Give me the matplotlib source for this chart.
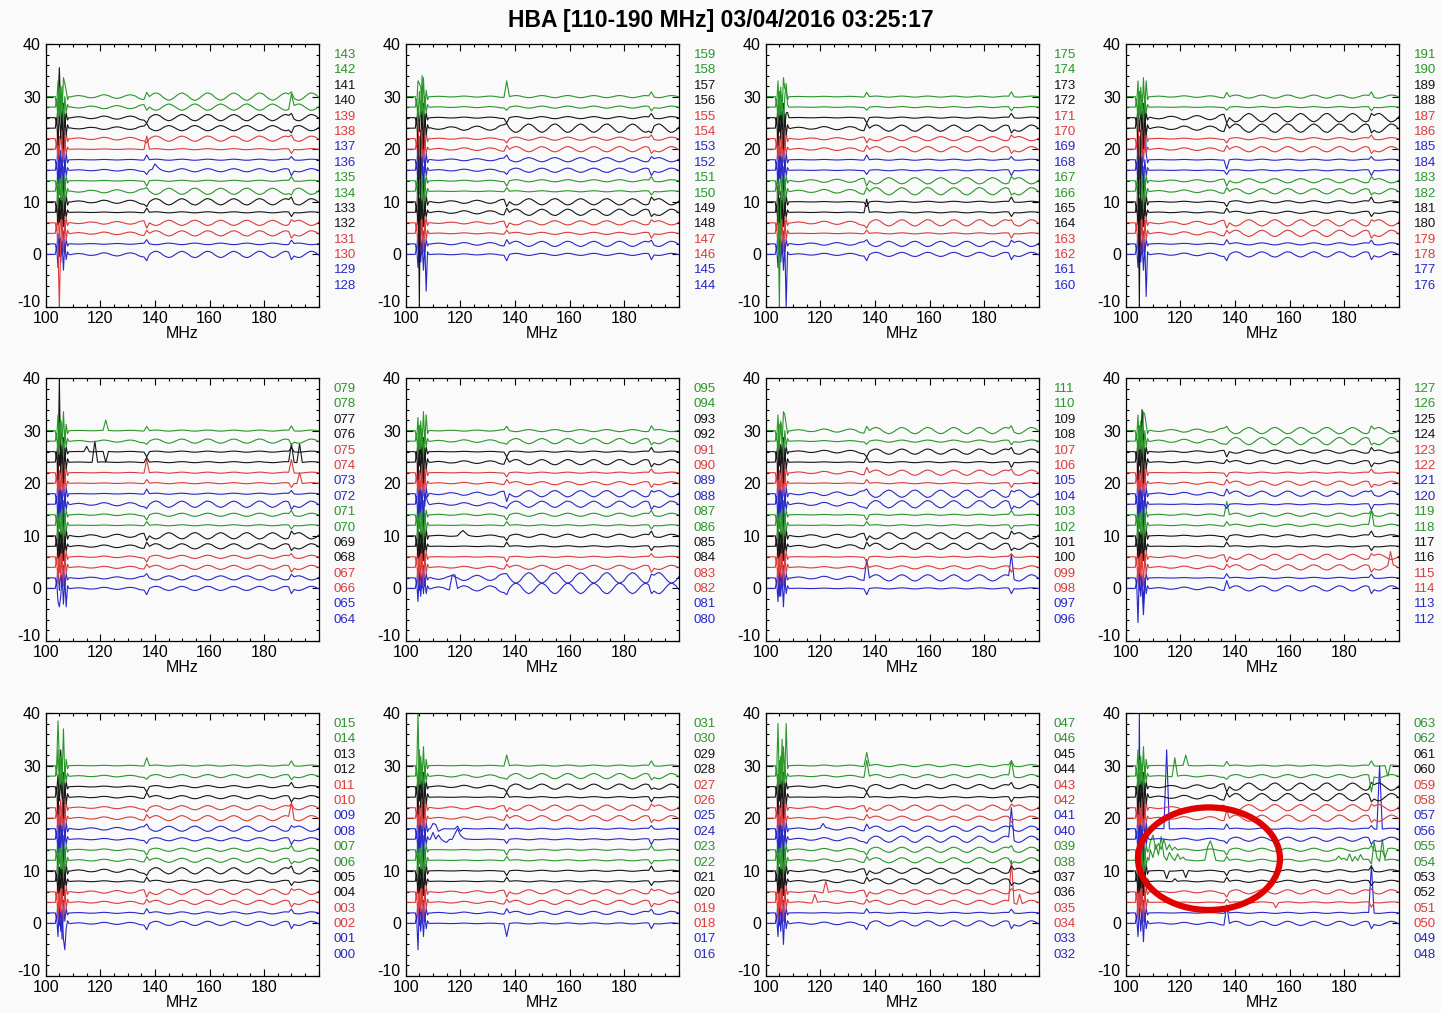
import numpy as np
import matplotlib.pyplot as plt
from matplotlib.patches import Ellipse
from matplotlib.ticker import MultipleLocator

plt.rcParams['font.family'] = ['Liberation Sans', 'DejaVu Sans']
plt.rcParams['axes.unicode_minus'] = False

title = 'HBA [110-190 MHz] 03/04/2016 03:25:17'

# 16 traces per panel, stacked 2 dB apart, colour changes every 2 traces
offsets = [0, 2, 4, 6, 8, 10, 12, 14, 16, 18, 20, 22, 24, 26, 28, 30]
colours = ['#2828c8', '#dd3b3b', '#151515', '#2a962a']  # blue, red, black, green

# FM band edge (100-108.5 MHz), sampled every 0.5 MHz around the mess
fm_freq = [100, 103.5, 104, 104.5, 105, 105.5, 106, 106.5, 107, 107.5, 108, 108.5]
fm_shape = [0, 0, 1.5, -2.5, 3.0, -1.5, 2.5, -3.0, 2.0, -1.0, 0.5, 0]
fm_amp = [1.0, -0.8, 1.2, -1.0, 0.9, -1.3, 1.1, -0.9, 1.0, -1.2, 0.8, -1.1, 1.3, -0.9, 1.0, -1.2]

# ripple, 109..200 MHz at 1 MHz
grid_freq = np.arange(109, 201)
ripple = [-0.1, 0.1, 0.2, 0.3, 0.2, 0.1, -0.15, -0.3, -0.3, -0.2, 0.0,
          0.3, 0.5, 0.45, 0.25, -0.1, -0.35, -0.5, -0.4, -0.15, 0.15, 0.4, 0.5, 0.35, 0.1,
          -0.4, -0.7, -0.8, -0.5,
          0, .6, 1, .9, .5, -.2, -.7, -1, -.8, -.3, .3, .8, 1, .7, .2, -.5, -.9, -1, -.6,
          0, .6, 1, .9, .5, -.2, -.7, -1, -.8, -.3, .3, .8, 1, .7, .2, -.5, -.9, -1, -.6,
          0, .6, 1, .9, .5, -.2, -.7, -1, -.8, -.3, .3, .8, 1, .7, .2, -.5, -.9, -1, -.6,
          0, .6, 1, .9, .5, -.2]

# glitches at 137 and 190 MHz (offset from trace level)
g137 = [-1.2, 0.8, 0.6, -1.0, 0.8, -0.9, 0.7, -1.0, -0.8, 0.9, 0.7, -0.8, 0.9, -1.0, -0.6, 0.8]
g190 = [-1.0, 0.7, -0.9, 0.6, -0.8, 0.9, -0.7, 0.8, -1.0, 0.6, -0.8, 0.7, -0.9, 0.8, -0.7, 0.9]

# first antenna number of each panel, in layout order
first = [128, 144, 160, 176, 64, 80, 96, 112, 0, 16, 32, 48]

# ripple amplitude per trace (bottom trace first), sign = phase
amp_128 = [0.6, -0.15, 0.5, -0.5, 0.1, 0.6, -0.6, 0.1, 0.3, 0.1, 0.1, 0.5, -0.5, 0.6, -0.6, 0.7]
amp_144 = [0.2, 0.5, 0.2, -0.4, 0.6, -0.6, 0.1, 0.2, 0.4, -0.4, 0.5, 0.3, -0.8, 0.2, 0.2, 0.2]
amp_160 = [0.4, -0.5, 0.1, 0.6, 0.1, 0.1, 0.7, -0.6, 0.1, 0.1, 0.5, -0.4, 0.6, 0.1, 0.1, 0.1]
amp_176 = [0.5, 0.2, 0.6, -0.6, 0.2, 0.2, 0.5, -0.4, 0.1, 0.1, 0.5, 0.2, 0.8, -0.8, 0.1, 0.3]
amp_064 = [0.4, -0.4, 0.4, 0.3, 0.5, -0.6, 0.1, 0.3, 0.6, 0.1, 0.1, 0.1, 0.1, 0.1, 0.4, 0.1]
amp_080 = [1.0, -1.0, 0.4, 0.1, 0.1, 0.3, 0.1, 0.3, 0.6, -0.6, 0.3, 0.1, 0.5, 0.1, 0.5, -0.2]
amp_096 = [0.1, 0.6, 0.3, 0.1, 0.6, -0.6, 0.1, 0.1, 0.7, -0.7, 0.1, 0.5, 0.1, 0.5, 0.2, 0.6]
amp_112 = [0.5, 0.1, 0.5, -0.5, 0.1, 0.2, 0.2, 0.3, 0.1, 0.5, 0.4, 0.1, 0.3, -0.3, 0.7, -0.6]
amp_000 = [0.4, 0.2, 0.4, -0.5, 0.2, 0.6, 0.4, 0.3, 0.3, -0.5, 0.5, 0.4, 0.3, 0.2, 0.3, 0.1]
amp_016 = [0.1, 0.3, 0.4, -0.4, 0.1, 0.1, 0.1, 0.1, 0.1, 0.1, 0.5, -0.5, 0.1, 0.5, 0.5, 0.1]
amp_032 = [0.5, 0.1, 0.4, -0.4, 0.5, -0.5, 0.5, 0.5, 0.6, 0.5, 0.4, -0.5, 0.1, 0.4, 0.3, 0.2]
amp_048 = [0.4, 0.1, 0.1, 0.4, 0.2, 0.2, 0.2, 0.3, 0.4, 0.1, 0.6, -0.6, 0.7, -0.7, 0.3, 0.1]

# spikes and bumps: (trace, MHz, value)
spk_128 = [(13, 105, 35.5), (2, 105, -10), (10, 105.5, 22.5), (14, 106, 32), (15, 107, 32.5),
           (10, 137, 22.5), (8, 140, 17.2), (8, 141, 16.6), (14, 190, 30.5)]
spk_144 = [(12, 105, -10), (14, 106, 34), (15, 105, 32.5), (0, 107.5, -7), (15, 137, 33),
           (13, 105.5, 29)]
spk_160 = [(14, 107.5, 32.5), (15, 107, 31.5), (0, 107.5, -10), (6, 105, -10), (4, 137, 10.5),
           (13, 108, 27)]
spk_176 = [(12, 105, -10), (0, 107.5, -8), (15, 107.5, 33), (9, 107, 28.5), (9, 137, 16.2)]
spk_064 = [(12, 105, 40), (14, 105.5, 32), (0, 105, -3.5), (0, 107.5, -3.5), (13, 115, 27),
           (12, 118, 28), (15, 122, 32), (13, 122, 24), (12, 180, 24), (12, 190, 27.5),
           (11, 190, 24.5), (12, 193, 27.5), (10, 193, 22), (11, 137, 24.5)]
spk_080 = [(15, 104.5, 32.5), (15, 107.5, 33), (5, 120, 10.6), (5, 121, 11), (5, 122, 10.5),
           (0, 117, 2.5), (1, 117, 2.5), (0, 118, 2.6), (9, 137, 16.5), (8, 107.5, 17.5),
           (0, 106.5, -1)]
spk_096 = [(15, 107, 33), (14, 105.5, 31.5), (0, 106.5, -3.5), (1, 105, -1.5), (1, 137, 5.5),
           (1, 190, 6.5), (11, 137, 23), (12, 190, 23)]
spk_112 = [(0, 104.5, -6.5), (1, 106.5, -5), (13, 106, 34), (15, 107, 33), (7, 137, 16.5),
           (6, 190, 15), (0, 137, 1.5), (12, 137, 24.5), (2, 197, 7)]
spk_000 = [(14, 104.5, 38.5), (15, 106.5, 37), (0, 107, -5), (1, 106, -3), (12, 105.5, 33),
           (10, 190, 23), (15, 137, 31.5)]
spk_016 = [(15, 104.5, 40), (14, 105, 33), (0, 104.5, -5), (0, 106.5, -2.5), (13, 190, 25.5),
           (9, 110, 19), (9, 111, 18.8), (9, 112, 17.5), (9, 113, 17.8), (9, 119, 18.5),
           (9, 120, 17.5), (8, 110, 17.3), (8, 112, 16.8), (8, 114, 15.6), (8, 115, 15.4),
           (8, 118, 17), (8, 119, 18), (8, 120, 16.8), (8, 121, 16.3), (0, 137, -2.5),
           (15, 137, 32)]
spk_032 = [(15, 104.5, 38), (14, 106, 35), (15, 107.5, 38), (0, 106.5, -4), (15, 137, 32.5),
           (14, 137, 31), (8, 190, 22), (2, 190, 12), (3, 122, 8), (2, 118, 5.5),
           (5, 193, 10.5), (2, 193, 5.5), (9, 121, 19), (14, 190, 31)]
spk_048 = [(1, 105, 40), (0, 106.5, -3.5), (9, 115, 33), (14, 118, 31.5), (15, 122, 32),
           (5, 115, 8.5), (4, 118, 8.5), (5, 122, 8.7), (6, 130, 14.5), (6, 131, 15.7),
           (6, 132, 14.2), (14, 190, 25), (9, 193, 30), (15, 196, 28), (1, 190, 11),
           (3, 157, 6), (2, 155, 3), (10, 137, 21.5), (0, 137, 3.5),
           (6, 109, 14), (6, 110, 12.5), (6, 111, 15), (6, 112, 13), (6, 113, 16.5),
           (6, 114, 12.8), (6, 116, 13.5), (6, 117, 12.5), (6, 119, 13.2), (6, 120, 12.2),
           (6, 121, 12.6), (7, 109, 15.5), (7, 110, 16.8), (7, 112, 15.2), (7, 114, 16),
           (7, 116, 15), (7, 118, 14.5), (6, 178, 12.8), (6, 180, 12.4), (6, 182, 13.2),
           (6, 184, 12.7), (6, 186, 13.1), (6, 191, 15.5), (6, 192, 12.5), (6, 194, 16),
           (7, 195, 12.5)]

amps = [amp_128, amp_144, amp_160, amp_176, amp_064, amp_080,
        amp_096, amp_112, amp_000, amp_016, amp_032, amp_048]
spikes = [spk_128, spk_144, spk_160, spk_176, spk_064, spk_080,
          spk_096, spk_112, spk_000, spk_016, spk_032, spk_048]


def traces(amp, spk):
    x = np.concatenate([fm_freq, grid_freq]).astype(float)
    out = []
    for i in range(16):
        y = np.concatenate([offsets[i] + np.array(fm_shape) * fm_amp[i],
                            offsets[i] + np.array(ripple) * amp[i]])
        y[x == 137] = offsets[i] + g137[i]
        y[x == 190] = offsets[i] + g190[i]
        out.append(y)
    for i, f, v in spk:
        out[i][np.argmin(np.abs(x - f))] = v
    return x, out


fig = plt.figure(figsize=(14.41, 10.13), dpi=100, facecolor='#fafafa')
fig.text(0.5, 1 - 20 / 1013, title, ha='center', va='center', fontsize=16.5, fontweight='bold')

W, H = 1441, 1013
col_left = [45.7, 405.7, 765.7, 1125.7]
row_top = [44, 378, 713]

for p in range(12):
    r, c = divmod(p, 4)
    ax = fig.add_axes([col_left[c] / W, 1 - (row_top[r] + 263) / H, 273 / W, 263 / H])
    ax.set_facecolor('#fafafa')
    x, ys = traces(amps[p], spikes[p])
    for i in range(16):
        ax.plot(x, ys[i], color=colours[(i // 2) % 4], lw=0.8)
    ax.set_xlim(100, 200)
    ax.set_ylim(-10, 40)
    ax.set_xticks([100, 120, 140, 160, 180])
    ax.set_yticks([-10, 0, 10, 20, 30, 40])
    ax.xaxis.set_minor_locator(MultipleLocator(5))
    ax.yaxis.set_minor_locator(MultipleLocator(2))
    ax.tick_params(which='both', direction='in', top=True, right=True, labelsize=11.5, width=0.8)
    ax.tick_params(which='major', length=5)
    ax.tick_params(which='minor', length=2.5)
    ax.tick_params(axis='x', pad=3)
    # the -10 label sits a little above its tick, clear of the 100 below it
    ax.get_yticklabels()[0].set_verticalalignment('baseline')
    ax.set_xlabel('MHz', fontsize=11.5, labelpad=0)
    for s in ax.spines.values():
        s.set_linewidth(0.9)
    # antenna numbers down the right side, highest on top
    for k in range(16):
        n = first[p] + 15 - k
        ax.text(1.055, 0.958 - k * 0.0585, f'{n:03d}', transform=ax.transAxes,
                ha='left', va='center', fontsize=9.5, color=colours[((15 - k) // 2) % 4])
    if first[p] == 48:
        ax.add_patch(Ellipse((130.5, 12.3), 52, 19.5, fill=False, ec='#e00000', lw=4.5,
                             clip_on=False, zorder=5))

fig.savefig('out.png', dpi=100, facecolor=fig.get_facecolor())
